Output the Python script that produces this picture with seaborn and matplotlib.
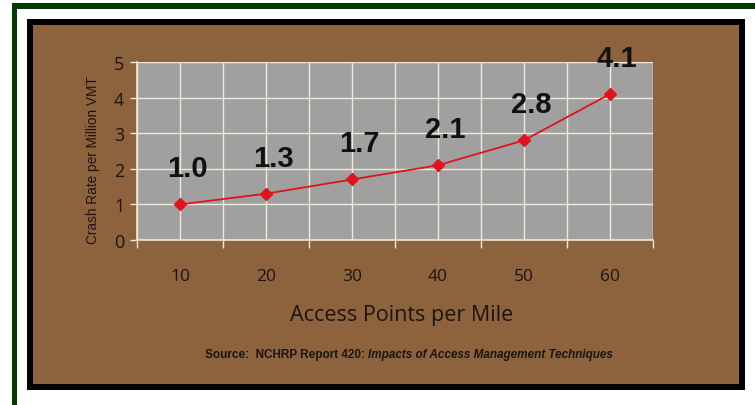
import matplotlib
matplotlib.use("Agg")
import matplotlib.pyplot as plt
from matplotlib.patches import Rectangle
import seaborn as sns
import pandas as pd

# Data
access_points = ["10", "20", "30", "40", "50", "60"]
crash_rate = [1.0, 1.3, 1.7, 2.1, 2.8, 4.1]
y_ticks = [0, 1, 2, 3, 4, 5]

W, H = 755, 406
BROWN = "#8D633E"
PLOT_GRAY = "#A0A0A0"
GRID = "#F0E8D8"
RED = "#E0121C"
GREEN = "#023A02"
TXT = "#1C1410"

sns.set_theme(style="white")
plt.rcParams["font.family"] = ["Liberation Sans", "DejaVu Sans"]

fig = plt.figure(figsize=(W / 100, H / 100), dpi=100)
fig.patch.set_facecolor("white")


def px_rect(x0, y0, x1, y1, color, z):
    fig.patches.append(Rectangle((x0 / W, 1 - y1 / H), (x1 - x0) / W, (y1 - y0) / H,
                                 transform=fig.transFigure, facecolor=color,
                                 edgecolor="none", zorder=z))


# Outer green frame (top and left bands)
px_rect(12, 4, W, 10, GREEN, -3)
px_rect(12, 4, 17, H, GREEN, -3)
# Black border and brown panel
px_rect(27, 20, 745, 391, "black", -3)
px_rect(33, 26, 739, 385, BROWN, -2)

# Plot area
ax_l, ax_r, ax_t, ax_b = 137, 653, 63, 241
ax = fig.add_axes([ax_l / W, 1 - ax_b / H, (ax_r - ax_l) / W, (ax_b - ax_t) / H])
ax.set_zorder(1)
ax.set_facecolor(PLOT_GRAY)

df = pd.DataFrame({"access": access_points, "rate": crash_rate})
sns.pointplot(data=df, x="access", y="rate", ax=ax, color=RED, marker="D",
              markersize=6.5, linewidth=1.3, errorbar=None)

ax.set_xlim(-0.5, len(access_points) - 0.5)
ax.set_ylim(0, 5)
ax.set_yticks(y_ticks)
ax.set_xticks(range(len(access_points)))
ax.set_xticks([i - 0.5 for i in range(len(access_points) + 1)], minor=True)
ax.set_xticklabels(access_points)

ax.grid(True, which="both", axis="x", color=GRID, linewidth=1.0)
ax.grid(True, which="major", axis="y", color=GRID, linewidth=1.0)
ax.set_axisbelow(True)

for side in ["top", "right"]:
    ax.spines[side].set_visible(False)
for side in ["left", "bottom"]:
    ax.spines[side].set_color(GRID)
    ax.spines[side].set_linewidth(1.2)

ax.tick_params(axis="x", which="major", length=0, pad=20, labelsize=12.5,
               labelcolor=TXT)
ax.tick_params(axis="x", which="minor", length=6, width=1, color=GRID,
               direction="out", bottom=True)
ax.tick_params(axis="y", which="major", length=5, width=1, color=GRID,
               direction="out", left=True, labelsize=13, labelcolor=TXT, pad=4)
for lab in ax.get_xticklabels() + ax.get_yticklabels():
    lab.set_fontfamily(["Open Sans", "DejaVu Sans"])

ax.set_xlabel("Access Points per Mile", fontsize=15.5, color=TXT,
              fontfamily=["Open Sans", "DejaVu Sans"])
ax.xaxis.set_label_coords((402 - ax_l) / (ax_r - ax_l), -(316 - ax_b) / (ax_b - ax_t))
ax.xaxis.label.set_va("center")
ax.set_ylabel("Crash Rate per Million VMT", fontsize=9.8, color=TXT)
ax.yaxis.set_label_coords(-(ax_l - 93) / (ax_r - ax_l), (ax_b - 160) / (ax_b - ax_t))
ax.yaxis.label.set_va("center")

# Value labels above each point
for i, v in enumerate(crash_rate):
    ax.annotate(f"{v:.1f}", xy=(i, v), xytext=(5, 26), textcoords="offset points",
                ha="center", va="center", fontsize=21, fontweight="bold",
                color="#111111", annotation_clip=False)

# Source line: bold prefix followed by the bold-italic report title
fig.canvas.draw()
renderer = fig.canvas.get_renderer()
src_y = 1 - 355 / H
t1 = fig.text(0, src_y, "Source:  NCHRP Report 420: ", fontsize=8.5,
              fontweight="bold", color=TXT, va="center", ha="left")
t2 = fig.text(0, src_y, "Impacts of Access Management Techniques", fontsize=8.5,
              fontweight="bold", fontstyle="italic", color=TXT, va="center", ha="left")
w1 = t1.get_window_extent(renderer).width
w2 = t2.get_window_extent(renderer).width
cx = 409
start = cx - (w1 + w2) / 2
t1.set_x(start / W)
t2.set_x((start + w1) / W)

fig.savefig("out.png", dpi=100, facecolor=fig.get_facecolor())
